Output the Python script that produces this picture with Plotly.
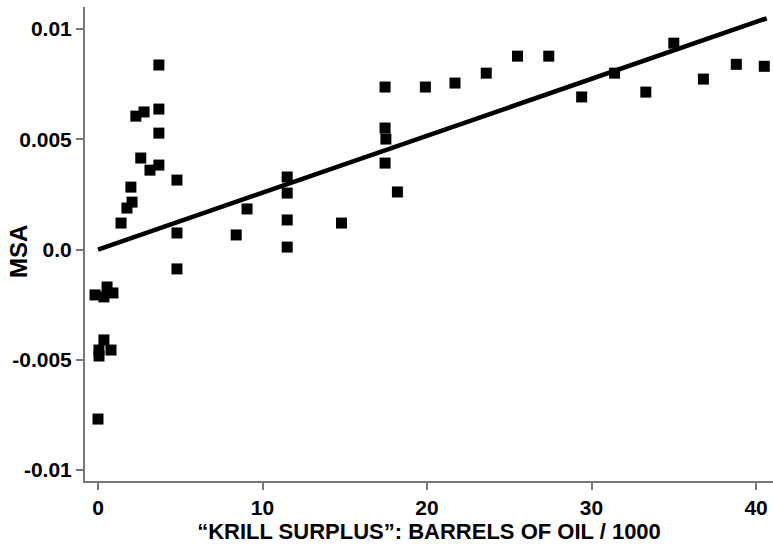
import plotly.graph_objects as go

# Scatter data: krill surplus (barrels of oil / 1000) vs MSA
krill_x = [-0.18, 0.36, 0.55, 0.91, 0.36, 0.06, 0.06, 0.79, 0.0,
           3.7, 2.3, 2.8, 3.7, 3.7, 2.6, 3.16, 3.7, 4.8, 2.0, 2.07, 1.76, 1.4, 4.8, 4.8,
           8.4, 9.06, 11.5, 11.5, 11.5, 11.5, 14.8,
           17.45, 17.45, 17.5, 17.45, 18.2, 19.9, 21.7, 23.6, 25.5, 27.4,
           29.4, 31.4, 33.3, 35.0, 36.8, 38.8, 40.5]
msa_y = [-0.00206, -0.00215, -0.0017, -0.00197, -0.0041, -0.00456, -0.00483, -0.00456, -0.00769,
         0.00837, 0.00605, 0.00624, 0.00637, 0.00528, 0.00415, 0.0036, 0.00383, 0.00315, 0.00283,
         0.00215, 0.00188, 0.0012, 0.00075, -0.00088,
         0.00066, 0.00184, 0.00329, 0.00256, 0.00134, 0.00011, 0.0012,
         0.00737, 0.00551, 0.00501, 0.00392, 0.00261, 0.00737, 0.00755, 0.008, 0.00877, 0.00877,
         0.00692, 0.008, 0.00714, 0.00936, 0.00773, 0.0084, 0.00831]

# Regression line parameters
fit_intercept = 0.0
fit_slope = 0.000258
fit_x = [0.0, 40.65]
fit_y = [fit_intercept + fit_slope * v for v in fit_x]

x_ticks = [0, 10, 20, 30, 40]
x_ticktext = ["0", "10", "20", "30", "40"]
y_ticks = [0.01, 0.005, 0.0, -0.005, -0.01]
y_ticktext = ["0.01", "0.005", "0.0", "-0.005", "-0.01"]

FONT = "Liberation Sans, Arial, sans-serif"

fig = go.Figure()
fig.add_trace(go.Scatter(x=krill_x, y=msa_y, mode="markers",
                         marker=dict(symbol="square", size=11, color="black",
                                     line=dict(width=0)),
                         showlegend=False, hoverinfo="skip"))
fig.add_trace(go.Scatter(x=fit_x, y=fit_y, mode="lines",
                         line=dict(color="black", width=4.5),
                         showlegend=False, hoverinfo="skip"))

tickfont = dict(family=FONT, size=21, color="black", weight="bold")
fig.update_layout(
    width=773, height=545,
    margin=dict(l=85, r=0, t=7, b=64),
    paper_bgcolor="white", plot_bgcolor="white",
    xaxis=dict(range=[-0.79, 41.03], tickvals=x_ticks, ticktext=x_ticktext,
               showgrid=False, zeroline=False, showline=True, linecolor="#777777", linewidth=2,
               ticks="outside", ticklen=7, tickwidth=2, tickcolor="#777777",
               tickfont=tickfont,
               title=dict(text="\u201cKRILL SURPLUS\u201d: BARRELS OF OIL / 1000",
                          font=dict(family=FONT, size=22, color="black", weight="bold"),
                          standoff=0)),
    yaxis=dict(range=[-0.0105, 0.011], tickvals=y_ticks, ticktext=y_ticktext,
               showgrid=False, zeroline=False, showline=True, linecolor="#777777", linewidth=2,
               ticks="outside", ticklen=7, tickwidth=2, tickcolor="#777777",
               tickfont=tickfont),
    annotations=[dict(text="MSA", textangle=-90, xref="paper", yref="paper",
                      x=(18 - 85) / 688, y=0.483, xanchor="center", yanchor="middle",
                      showarrow=False,
                      font=dict(family=FONT, size=24, color="black", weight="bold"))],
)

fig.write_html("out.html")
